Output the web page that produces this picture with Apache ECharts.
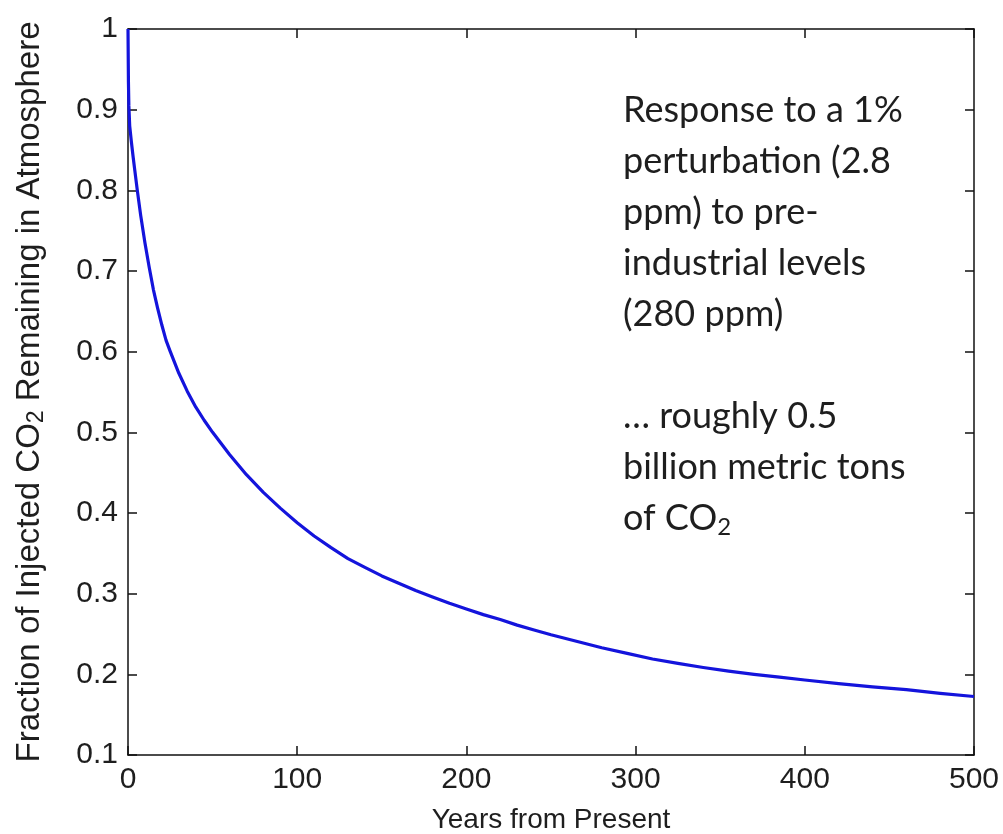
<!DOCTYPE html>
<html>
<head>
<meta charset="utf-8">
<script src="https://cdn.jsdelivr.net/npm/echarts@6/dist/echarts.min.js"></script>
<style>
  html, body { margin: 0; padding: 0; background: #fff; }
  #chart { width: 1003px; height: 834px; }
</style>
</head>
<body>
<div id="chart"></div>
<script>
// Years after the pulse and fraction still airborne
const years = [0, 0.25, 0.5, 1, 2, 3, 4, 5.5, 7.5, 10, 12.5, 15, 17.5, 20, 22.5, 25, 30, 35,
  40, 45, 50, 60, 70, 80, 90, 100, 110, 120, 130, 140, 150, 160, 170, 180, 190, 200, 210,
  220, 230, 240, 250, 265, 280, 295, 310, 325, 340, 355, 370, 385, 400, 420, 440, 460, 480, 500];
const fraction = [1.0, 0.935, 0.905, 0.88, 0.86, 0.842, 0.825, 0.8, 0.769, 0.735, 0.705,
  0.677, 0.654, 0.633, 0.614, 0.6, 0.5735, 0.551, 0.5315, 0.515, 0.5, 0.4725, 0.4475,
  0.4255, 0.406, 0.388, 0.3715, 0.357, 0.3435, 0.3325, 0.322, 0.313, 0.304, 0.296, 0.288,
  0.281, 0.274, 0.268, 0.261, 0.255, 0.249, 0.241, 0.233, 0.226, 0.219, 0.2135, 0.2085,
  0.204, 0.2, 0.1965, 0.193, 0.1885, 0.1845, 0.181, 0.1765, 0.1725];

const xTicks = [0, 100, 200, 300, 400, 500];
const yTicks = [0.1, 0.2, 0.3, 0.4, 0.5, 0.6, 0.7, 0.8, 0.9, 1];

const noteLines = [
  'Response to a 1%',
  'perturbation (2.8',
  'ppm) to pre-',
  'industrial levels',
  '(280 ppm)',
  '',
  '\u2026 roughly 0.5',
  'billion metric tons',
  'of CO{sub|2}'
];

const chart = echarts.init(document.getElementById('chart'));

const axisFont = 'Liberation Sans';
const ink = '#1e1e1e';

const baseAxis = {
  type: 'value',
  axisLine: { show: true, onZero: false, lineStyle: { color: '#111', width: 1.5 } },
  axisTick: { show: true, inside: true, length: 9, lineStyle: { color: '#111', width: 1.5 } },
  splitLine: { show: false },
  minorTick: { show: false }
};

const option = {
  animation: false,
  backgroundColor: '#fff',
  grid: { left: 128, right: 29, top: 29, bottom: 79, containLabel: false, outerBoundsMode: 'none' },
  xAxis: [
    Object.assign({}, baseAxis, {
      min: 0, max: 500, interval: 100,
      name: 'Years from Present',
      nameLocation: 'middle',
      nameGap: 51,
      nameTextStyle: { fontFamily: axisFont, fontSize: 28, color: ink },
      axisLabel: { fontFamily: axisFont, fontSize: 30, color: ink, margin: 10 }
    }),
    Object.assign({}, baseAxis, {
      position: 'top', min: 0, max: 500, interval: 100,
      axisLabel: { show: false }
    })
  ],
  yAxis: [
    Object.assign({}, baseAxis, {
      min: 0.1, max: 1, interval: 0.1,
      name: 'Fraction of Injected CO{sub|2} Remaining in Atmosphere',
      nameLocation: 'middle',
      nameRotate: 90,
      nameGap: 80,
      nameTextStyle: {
        fontFamily: axisFont, fontSize: 33, color: ink,
        rich: {
          sub: { fontFamily: axisFont, fontSize: 23, color: ink, verticalAlign: 'bottom', padding: [14, 0, 0, 0] }
        }
      },
      axisLabel: {
        fontFamily: axisFont, fontSize: 30, color: ink, margin: 10,
        formatter: (v) => String(+v.toFixed(1))
      }
    }),
    Object.assign({}, baseAxis, {
      position: 'right', min: 0.1, max: 1, interval: 0.1,
      axisLabel: { show: false }
    })
  ],
  series: [{
    type: 'line',
    data: years.map((y, i) => [y, fraction[i]]),
    showSymbol: false,
    smooth: false,
    lineStyle: { color: '#1414dc', width: 3.2, join: 'round' },
    clip: true
  }],
  graphic: noteLines.map((t, i) => ({
    type: 'text',
    left: 623,
    top: 92 + i * 51,
    style: {
      text: t,
      font: '36px Lato',
      fill: ink,
      rich: {
        sub: { font: '24px Lato', fill: ink, padding: [18, 0, 0, 0] }
      }
    }
  }))
};

chart.setOption(option);
</script>
</body>
</html>
